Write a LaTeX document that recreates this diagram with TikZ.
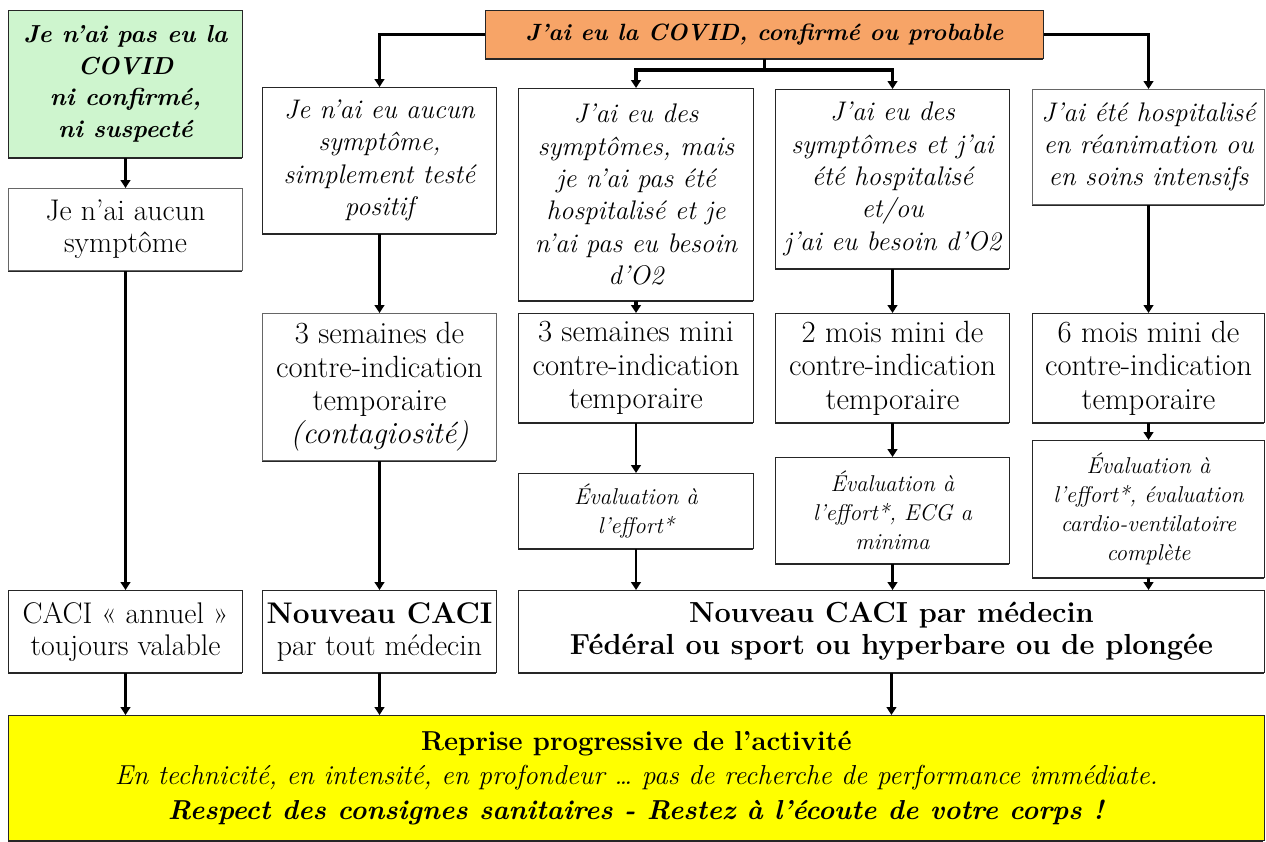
\documentclass[tikz,border=0pt]{standalone}
\usepackage{tikz}
\usetikzlibrary{arrows.meta, shadows}

\definecolor{nocovidgreen}{RGB}{206,245,206}
\definecolor{covidorange}{RGB}{247,164,103}
\definecolor{reprisejaune}{RGB}{255,255,0}

\begin{document}
\begin{tikzpicture}[
    x=0.02cm, y=-0.02cm,
    box/.style={rectangle, draw=black!85, line width=0.6pt, fill=white, anchor=north west, align=center, inner sep=1pt, minimum width=4.68cm,
        drop shadow={shadow xshift=-0.5pt, shadow yshift=-0.9pt, fill=black, opacity=0.85}},
    question/.style={box, font=\fontsize{15.3}{18.4}\selectfont\itshape},
    delay/.style={box, font=\fontsize{17.5}{19}\selectfont},
    evalbox/.style={box, font=\fontsize{13}{16.5}\selectfont\itshape},
    caci/.style={box, font=\fontsize{17}{18.2}\selectfont},
    arrow/.style={-{Triangle[width=5.5pt,length=4.5pt]}, line width=1.3pt},
    tarrow/.style={arrow, line width=1.8pt},
]
    \useasboundingbox (0,0) rectangle (1266,841);

    % Nodes
    \node[question, fill=nocovidgreen, font=\fontsize{14}{18}\selectfont\bfseries\itshape, minimum height=2.94cm] (nocovid) at (8,10) {Je n’ai pas eu la\\COVID\\ni confirmé,\\ni suspecté};
    \node[caci, draw=black!60, minimum height=1.64cm] (nosym) at (8,188) {Je n’ai aucun\\symptôme};
    \node[caci, minimum height=1.64cm] (annuel) at (8,590) {CACI «~annuel~»\\toujours valable};

    \node[box, fill=covidorange, font=\fontsize{13.4}{16}\selectfont\bfseries\itshape, minimum width=11.16cm, minimum height=0.96cm] (covid) at (485,10) {J’ai eu la COVID, confirmé ou probable};

    \node[question, minimum height=2.92cm] (asympt) at (262,87) {Je n’ai eu aucun\\symptôme,\\simplement testé\\positif};
    \node[question, minimum width=4.7cm, minimum height=4.24cm] (sympt) at (518,88) {J’ai eu des\\symptômes, mais\\je n’ai pas été\\hospitalisé et je\\n’ai pas eu besoin\\d’O2};
    \node[question, minimum height=3.58cm] (hosp) at (775,89) {J’ai eu des\\symptômes et j’ai\\été hospitalisé\\et/ou\\j’ai eu besoin d’O2};
    \node[question, draw=black!60, minimum width=4.64cm, minimum height=2.3cm] (rea) at (1032,89) {J’ai été hospitalisé\\en réanimation ou\\en soins intensifs};

    \node[delay, draw=black!60, minimum height=2.94cm] (ci3s) at (262,313) {3 semaines de\\contre-indication\\temporaire\\\textit{(contagiosité)}};
    \node[delay, minimum width=4.7cm, minimum height=2.18cm] (ci3m) at (518,313) {3 semaines mini\\contre-indication\\temporaire};
    \node[delay, minimum height=2.18cm] (ci2m) at (775,313) {2 mois mini de\\contre-indication\\temporaire};
    \node[delay, minimum width=4.64cm, minimum height=2.18cm] (ci6m) at (1032,313) {6 mois mini de\\contre-indication\\temporaire};

    \node[evalbox, minimum width=4.7cm, minimum height=1.5cm] (eval3) at (518,473) {Évaluation à\\l’effort*};
    \node[evalbox, minimum height=2.12cm] (eval2) at (775,457) {Évaluation à\\l’effort*, ECG a\\minima};
    \node[evalbox, minimum width=4.64cm, minimum height=2.74cm] (eval6) at (1032,440) {Évaluation à\\l’effort*, évaluation\\cardio-ventilatoire\\complète};

    \node[caci, minimum height=1.64cm] (cacitout) at (262,590) {\textbf{Nouveau CACI}\\par tout médecin};
    \node[caci, font=\fontsize{16.5}{18.2}\selectfont\bfseries, minimum width=14.92cm, minimum height=1.64cm] (cacifed) at (518,590) {Nouveau CACI par médecin\\Fédéral ou sport ou hyperbare ou de plongée};

    \node[box, fill=reprisejaune, font=\fontsize{15.6}{19.8}\selectfont, minimum width=25.12cm, minimum height=2.5cm] (reprise) at (8,715) {\textbf{Reprise progressive de l’activité}\\\textit{En technicité, en intensité, en profondeur … pas de recherche de performance immédiate.}\\\textbf{\textit{Respect des consignes sanitaires - Restez à l’écoute de votre corps !}}};

    \coordinate (split) at (covid.south |- 0,70);

    % Arrows
    \draw[tarrow] (covid.west) -| (asympt.north);
    \draw[tarrow] (covid.east) -| (rea.north);
    \draw[line width=1.8pt] (covid.south) -- (split);
    \draw[tarrow] (split) -| (sympt.north);
    \draw[tarrow] (split) -| (hosp.north);

    \draw[arrow] (nocovid) -- (nosym);
    \draw[arrow] (nosym) -- (annuel);
    \draw[arrow] (annuel) -- (annuel |- reprise.north);

    \draw[tarrow] (asympt) -- (ci3s);
    \draw[arrow] (ci3s) -- (cacitout);
    \draw[arrow] (cacitout) -- (cacitout |- reprise.north);

    \draw[tarrow] (sympt) -- (ci3m);
    \draw[arrow] (ci3m) -- (eval3);
    \draw[arrow] (eval3) -- (eval3 |- cacifed.north);

    \draw[tarrow] (hosp) -- (ci2m);
    \draw[tarrow] (ci2m) -- (eval2);
    \draw[arrow] (eval2) -- (eval2 |- cacifed.north);

    \draw[tarrow] (rea) -- (ci6m);
    \draw[arrow] (ci6m) -- (eval6);
    \draw[arrow] (eval6) -- (eval6 |- cacifed.north);

    \draw[arrow] (cacifed) -- (cacifed |- reprise.north);
\end{tikzpicture}
\end{document}
